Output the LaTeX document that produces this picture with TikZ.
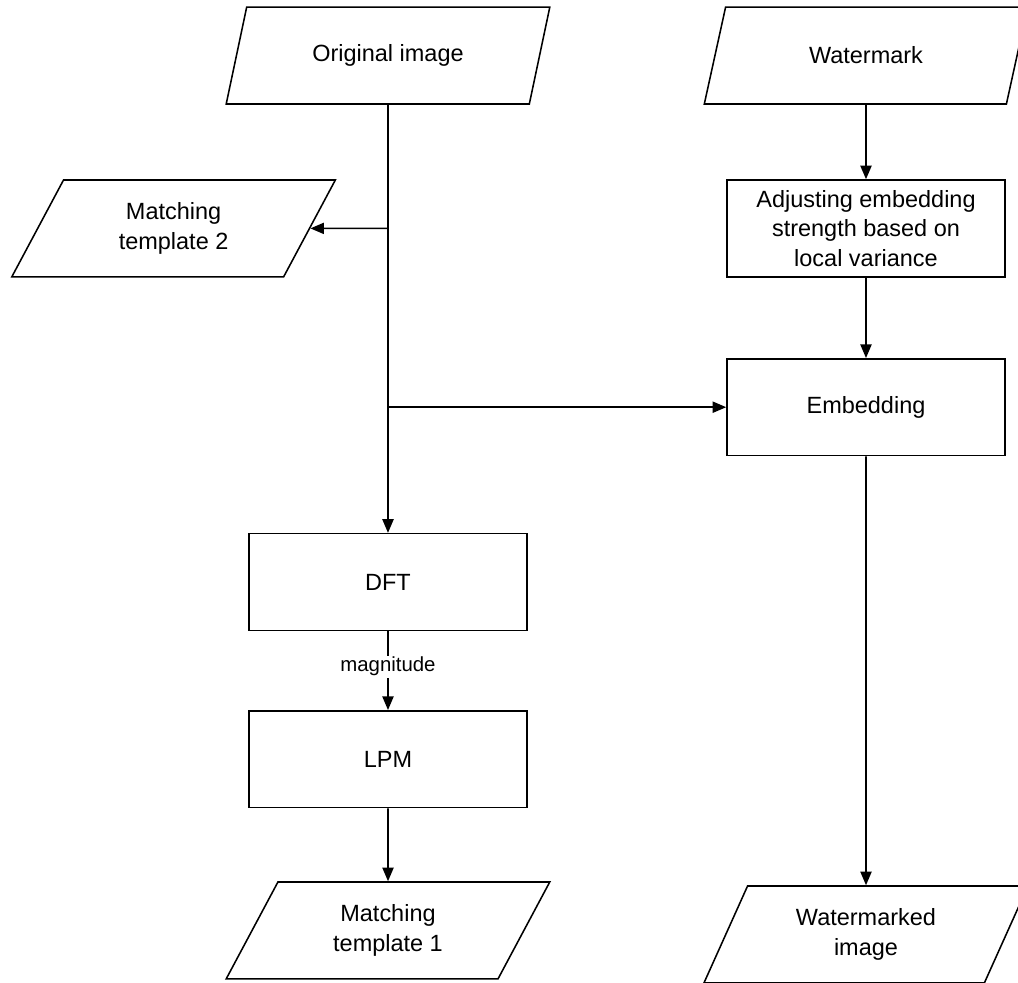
\documentclass[tikz,border=0pt]{standalone}
\usepackage{fontspec}
\setmainfont{Liberation Sans}
\usetikzlibrary{shapes.geometric,calc,positioning}
\usetikzlibrary{arrows.meta}

\begin{document}
\begin{tikzpicture}%
  [text=black, node font=\fontsize{16.7}{21}\selectfont, line width=1.1pt,
   io/.style={trapezium, draw, trapezium left angle=63.4,
     trapezium right angle=116.6, trapezium stretches=true,
     minimum width=8.1cm, minimum height=2.42cm, align=center, inner sep=0pt},
   proc/.style={rectangle, draw, minimum width=6.95cm,
     minimum height=2.42cm, align=center, inner sep=0pt},
   flow/.style={-{Triangle[length=0.34cm,width=0.28cm]}}]

  \useasboundingbox (-9.7,1.39) rectangle (15.75,-23.185);

  \node (orig) at (0,0) [io] {Original image};
  \node (wm) at ($(orig)+(11.95cm,0cm)$) [io] {Watermark};
  \node (mt2) at ($(orig)+(-5.36cm,-4.32cm)$) [io] {Matching\\template 2};
  \node (adj) at ($(wm)+(0cm,-4.32cm)$) [proc]
        {Adjusting embedding\\strength based on\\local variance};
  \node (emb) at ($(adj)+(0cm,-4.47cm)$) [proc] {Embedding};
  \node (dft) at ($(orig)+(0cm,-13.16cm)$) [proc] {DFT};
  \node (lpm) at ($(dft)+(0cm,-4.43cm)$) [proc] {LPM};
  \node (mt1) at ($(lpm)+(0cm,-4.28cm)$) [io] {Matching\\template 1};
  \node (wmi) at ($(mt1)+(11.95cm,-0.1cm)$) [io] {Watermarked\\image};

  % taps on the main line
  \coordinate (tapA) at (orig |- mt2);
  \coordinate (tapB) at (orig |- emb);

  \draw[flow] (orig) -- (dft);
  \draw[flow] (tapA) -- (mt2);
  \draw[flow] (tapB) -- (emb);
  \draw[flow] (dft) -- node[fill=white, pos=0.45, inner sep=1pt,
        font=\fontsize{14.5}{17}\selectfont] {magnitude} (lpm);
  \draw[flow] (lpm) -- (mt1);

  \draw[flow] (wm) -- (adj);
  \draw[flow] (adj) -- (emb);
  \draw[flow] (emb) -- (wmi);

\end{tikzpicture}
\end{document}
